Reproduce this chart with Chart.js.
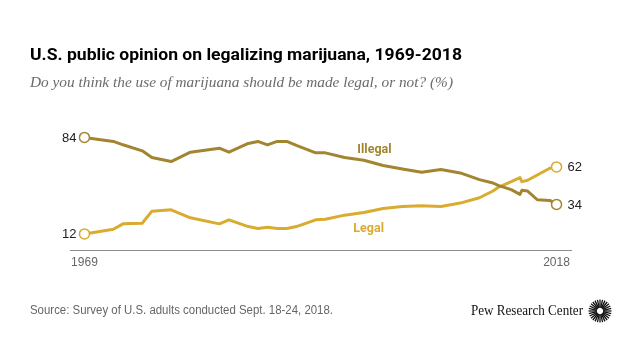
<!DOCTYPE html>
<html>
<head>
<meta charset="utf-8">
<script src="https://cdn.jsdelivr.net/npm/chart.js@4"></script>
<style>
  html, body { margin: 0; padding: 0; background: #fff; }
  #wrap { position: relative; width: 640px; height: 360px; overflow: hidden; }
  #c { position: absolute; left: 0; top: 0; }
  .t { position: absolute; white-space: nowrap; transform-origin: 0 0; }
  #title { left: 30px; top: 46px; font: bold 17px "Roboto", "Liberation Sans", sans-serif; line-height: 17px; color: #000; }
  #sub { left: 30px; top: 75px; font: italic 15px "Liberation Serif", serif; line-height: 15px; color: #6b6b6b; }
  #src { left: 30px; top: 304px; font: 12px "Liberation Sans", Arial, sans-serif; line-height: 12px; color: #666; }
  #pew { left: 471px; top: 303px; font: 15px "Liberation Serif", serif; line-height: 15px; color: #111; }
  #logo { position: absolute; left: 588px; top: 299px; }
</style>
</head>
<body>
<div id="wrap">
  <canvas id="c" width="640" height="360"></canvas>
  <div class="t" id="title" data-w="432">U.S. public opinion on legalizing marijuana, 1969-2018</div>
  <div class="t" id="sub" data-w="423">Do you think the use of marijuana should be made legal, or not? (%)</div>
  <div class="t" id="src" data-w="303">Source: Survey of U.S. adults conducted Sept. 18-24, 2018.</div>
  <div class="t" id="pew" data-w="112">Pew Research Center</div>
  <svg id="logo" width="24" height="24" viewBox="0 0 24 24"></svg>
</div>
<script>
// ---- data ----
const years   = [1969,1972,1973,1975,1976,1978,1980,1983,1984,1986,1987,1988,1989,1990,1991,1993,1994,1996,1998,2000,2002,2004,2006,2008,2010,2011.4,2012,2013.3,2014.2,2014.4,2015,2016,2017.3,2018];
const legal   = [12,15.5,19.5,20,29,30,24,19.5,22.5,17.5,16,17,16,16,17.5,22.5,23,26,28,31,32.5,33,32.5,35,39,44,47,51,54,51,52,56,61,62];
const illegal = [84,81,78.5,74,69,66,73,76,73,79.5,81,78.5,81,81,78,72.5,72.5,69,67,63,60.5,58,60,57.5,52.5,50,48,45,41.5,44.5,44,37.5,37,34];
const tickYears = [1969, 2018];
const seriesNames = ['Illegal', 'Legal'];

const COL_ILLEGAL = '#a3852f';
const COL_LEGAL = '#d9ab2f';

// fit text widths
document.querySelectorAll('.t').forEach(el => {
  const w = el.getBoundingClientRect().width;
  const target = +el.dataset.w;
  el.style.transform = 'scaleX(' + (target / w) + ')';
});

// logo
(function(){
  const svg = document.getElementById('logo');
  let s = '';
  for (let i = 0; i < 28; i++) {
    const a = i / 28 * Math.PI * 2;
    const r1 = 3.2, r2 = 11.5;
    s += `<line x1="${12+r1*Math.cos(a)}" y1="${12+r1*Math.sin(a)}" x2="${12+r2*Math.cos(a)}" y2="${12+r2*Math.sin(a)}" stroke="#111" stroke-width="1.3"/>`;
  }
  svg.innerHTML = s;
})();

const toXY = arr => years.map((y, i) => ({ x: y, y: arr[i] }));

const endLabels = {
  id: 'endLabels',
  afterDatasetsDraw(chart) {
    const ctx = chart.ctx;
    ctx.save();
    ctx.font = '13px "Liberation Sans", Arial, sans-serif';
    ctx.fillStyle = '#222';
    ctx.textBaseline = 'middle';
    chart.data.datasets.forEach((ds, di) => {
      const meta = chart.getDatasetMeta(di);
      const first = meta.data[0], last = meta.data[meta.data.length - 1];
      ctx.textAlign = 'right';
      ctx.fillText(String(ds.data[0].y), first.x - 8, first.y + 1);
      ctx.textAlign = 'left';
      ctx.fillText(String(ds.data[ds.data.length - 1].y), last.x + 11, last.y + 1);
    });
    // series name labels
    const xs = chart.scales.x, ys = chart.scales.y;
    ctx.font = 'bold 12.5px "Roboto", "Liberation Sans", sans-serif';
    ctx.textAlign = 'center';
    ctx.fillStyle = COL_ILLEGAL;
    ctx.fillText(seriesNames[0], xs.getPixelForValue(1999.1), ys.getPixelForValue(75));
    ctx.fillStyle = COL_LEGAL;
    ctx.fillText(seriesNames[1], xs.getPixelForValue(1998.5), ys.getPixelForValue(16));
    ctx.restore();
  }
};

const endRadius = c => (c.dataIndex === 0 || c.dataIndex === years.length - 1) ? 5 : 0;

new Chart(document.getElementById('c'), {
  type: 'line',
  data: {
    datasets: [
      { label: seriesNames[0], data: toXY(illegal), borderColor: COL_ILLEGAL, backgroundColor: '#fff',
        borderWidth: 3, tension: 0, borderJoinStyle: 'round',
        pointRadius: endRadius, pointBackgroundColor: '#fff', pointBorderColor: COL_ILLEGAL, pointBorderWidth: 1.5 },
      { label: seriesNames[1], data: toXY(legal), borderColor: COL_LEGAL, backgroundColor: '#fff',
        borderWidth: 3, tension: 0, borderJoinStyle: 'round',
        pointRadius: endRadius, pointBackgroundColor: '#fff', pointBorderColor: COL_LEGAL, pointBorderWidth: 1.5 }
    ]
  },
  options: {
    responsive: false,
    animation: false,
    devicePixelRatio: 1,
    clip: false,
    layout: { padding: { left: 70, right: 69, top: 120, bottom: 80 } },
    plugins: { legend: { display: false }, tooltip: { enabled: false } },
    scales: {
      x: {
        type: 'linear', min: 1967.5, max: 2019.5,
        afterBuildTicks: s => { s.ticks = tickYears.map(v => ({ value: v })); },
        afterFit: s => { s.height = 30; },
        grid: { display: false, drawTicks: false },
        border: { display: true, color: '#8c8c8c', width: 1 },
        ticks: { autoSkip: false, maxRotation: 0, padding: 5, color: '#666',
                 font: { family: '"Liberation Sans", Arial, sans-serif', size: 12 },
                 callback: v => String(v) }
      },
      y: { display: false, min: 0, max: 97 }
    }
  },
  plugins: [endLabels]
});
</script>
</body>
</html>
